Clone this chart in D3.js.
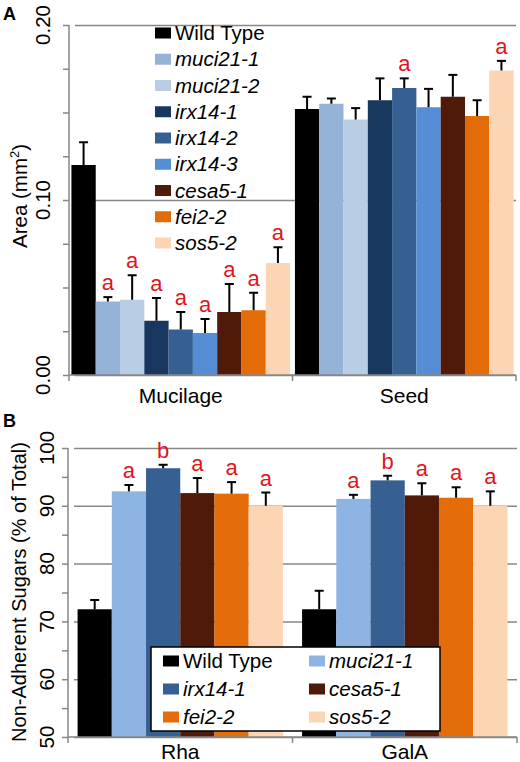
<!DOCTYPE html>
<html>
<head>
<meta charset="utf-8">
<script src="https://cdn.jsdelivr.net/npm/d3@7"></script>
<style>
  body { margin: 0; background: #fff; }
  text { font-family: Arial, "Liberation Sans", sans-serif; }
</style>
</head>
<body>
<svg id="fig" width="520" height="762"></svg>
<script>
// Panel A - mucilage / seed area
const tissues = ["Mucilage", "Seed"];
const genotypesA = ["Wild Type", "muci21-1", "muci21-2", "irx14-1", "irx14-2", "irx14-3", "cesa5-1", "fei2-2", "sos5-2"];
const mucilageArea = [0.120, 0.042, 0.043, 0.031, 0.026, 0.024, 0.036, 0.037, 0.064];
const mucilageSE = [0.013, 0.0025, 0.014, 0.013, 0.010, 0.008, 0.016, 0.010, 0.009];
const seedArea = [0.152, 0.155, 0.146, 0.157, 0.164, 0.153, 0.159, 0.148, 0.174];
const seedSE = [0.007, 0.003, 0.0065, 0.0125, 0.0055, 0.0105, 0.0125, 0.009, 0.0055];
const mucilageSig = ["", "a", "a", "a", "a", "a", "a", "a", "a"];
const seedSig = ["", "", "", "", "a", "", "", "", "a"];
const yMajorA = [0, 0.10, 0.20];

// Panel B - non-adherent sugars
const sugars = ["Rha", "GalA"];
const genotypesB = ["Wild Type", "muci21-1", "irx14-1", "cesa5-1", "fei2-2", "sos5-2"];
const rhaPct = [72.1, 92.5, 96.5, 92.2, 92.1, 90.0];
const rhaSE = [1.6, 1.1, 0.6, 2.6, 2.0, 2.3];
const galaPct = [72.1, 91.2, 94.4, 91.8, 91.4, 90.0];
const galaSE = [3.2, 0.7, 0.8, 2.1, 1.8, 2.5];
const rhaSig = ["", "a", "b", "a", "a", "a"];
const galaSig = ["", "a", "b", "a", "a", "a"];
const yMajorB = [50, 60, 70, 80, 90, 100];

// colours
const colA = d3.scaleOrdinal().domain(genotypesA)
  .range(["#000000", "#95b3d7", "#b9cde5", "#17375e", "#366092", "#558ed5", "#4f1a08", "#e36c09", "#fcd5b4"]);
const colB = d3.scaleOrdinal().domain(genotypesB)
  .range(["#000000", "#8db4e2", "#376092", "#4f1a08", "#e46c0a", "#fcd5b5"]);

const grey = "#878787";
const svg = d3.select("#fig");

function drawPanel(o) {
  const g = svg.append("g");
  const x0 = d3.scaleBand().domain(o.cats).range(o.xr);
  const x1 = d3.scaleBand().domain(o.genos).range([0, x0.bandwidth()]).paddingOuter(o.pad);
  const y = d3.scaleLinear().domain(o.dom).range(o.yr);

  // minor ticks
  g.append("g").attr("transform", `translate(${o.xr[0]},0)`)
    .call(d3.axisLeft(y).tickValues(o.minor).tickSize(6).tickFormat(""))
    .call(a => a.select(".domain").remove())
    .call(a => a.selectAll("line").attr("stroke", grey).attr("stroke-width", 1.5));

  // gridlines
  g.append("g").attr("transform", `translate(${o.xr[0]},0)`)
    .call(d3.axisLeft(y).tickValues(o.major).tickSize(-(o.xr[1] - o.xr[0])).tickSizeOuter(0).tickFormat(""))
    .call(a => a.select(".domain").remove())
    .call(a => a.selectAll("line").attr("stroke", grey).attr("stroke-width", 1.5).attr("x1", 6));

  // vertical axis line
  g.append("line").attr("x1", o.xr[0]).attr("x2", o.xr[0])
    .attr("y1", y(o.dom[0])).attr("y2", y(o.dom[1]))
    .attr("stroke", grey).attr("stroke-width", 1.5);

  // tick labels (rotated)
  g.selectAll(".tl").data(o.major).join("text")
    .attr("transform", d => `translate(${o.tickX},${y(d)}) rotate(-90)`)
    .attr("text-anchor", "middle").attr("font-size", 20.5).attr("fill", "#000")
    .text(o.fmt);

  // bars
  o.cats.forEach((c, ci) => {
    const vals = o.values[ci], se = o.se[ci], sig = o.sig[ci];
    const gx = g.append("g").attr("transform", `translate(${x0(c)},0)`);
    gx.selectAll("rect").data(o.genos).join("rect")
      .attr("x", d => x1(d)).attr("width", x1.bandwidth())
      .attr("y", (d, i) => y(vals[i]))
      .attr("height", (d, i) => y(o.dom[0]) - y(vals[i]))
      .attr("fill", d => o.col(d));
    // error bars
    const eb = gx.selectAll(".eb").data(o.genos).join("g")
      .attr("transform", d => `translate(${x1(d) + x1.bandwidth() / 2},0)`);
    eb.append("line").attr("y1", (d, i) => y(vals[i])).attr("y2", (d, i) => y(vals[i] + se[i]))
      .attr("stroke", "#000").attr("stroke-width", 2);
    eb.append("line").attr("x1", -4.5).attr("x2", 4.5)
      .attr("y1", (d, i) => y(vals[i] + se[i])).attr("y2", (d, i) => y(vals[i] + se[i]))
      .attr("stroke", "#000").attr("stroke-width", 2);
    eb.append("text").attr("text-anchor", "middle").attr("font-size", 22).attr("fill", "#e0141c")
      .attr("y", (d, i) => y(vals[i] + se[i]) - 7)
      .text((d, i) => sig[i]);
  });

  // baseline + category ticks
  g.append("line").attr("x1", o.xr[0]).attr("x2", o.xr[1])
    .attr("y1", y(o.dom[0])).attr("y2", y(o.dom[0]))
    .attr("stroke", grey).attr("stroke-width", 1.5);
  const edges = o.cats.map(c => x0(c)).concat([o.xr[1]]);
  g.selectAll(".ct").data(edges).join("line")
    .attr("x1", d => d).attr("x2", d => d)
    .attr("y1", y(o.dom[0])).attr("y2", y(o.dom[0]) + 6)
    .attr("stroke", grey).attr("stroke-width", 1.5);
  g.selectAll(".cl").data(o.cats).join("text")
    .attr("x", d => x0(d) + x0.bandwidth() / 2).attr("y", o.catY)
    .attr("text-anchor", "middle").attr("font-size", 21).text(d => d);

  return { x0, x1, y };
}

// ---- Panel A ----
drawPanel({
  cats: tissues, genos: genotypesA, col: colA,
  xr: [69, 516], pad: 0.1, dom: [0, 0.2], yr: [375, 25],
  major: yMajorA, minor: d3.range(0, 0.2001, 0.025), fmt: d3.format(".2f"),
  tickX: 50, catY: 403,
  values: [mucilageArea, seedArea], se: [mucilageSE, seedSE], sig: [mucilageSig, seedSig]
});

const labA = svg.append("text").attr("transform", "translate(27,196) rotate(-90)")
  .attr("text-anchor", "middle").attr("font-size", 20.5);
labA.append("tspan").text("Area (mm");
labA.append("tspan").attr("font-size", 13).attr("dy", -8).text("2");
labA.append("tspan").attr("dy", 8).text(")");

svg.append("text").attr("x", 3).attr("y", 20).attr("font-size", 18).attr("font-weight", "bold").text("A");

// legend A
const ly = d3.scalePoint().domain(genotypesA).range([33, 243]);
const legA = svg.append("g").selectAll("g").data(genotypesA).join("g")
  .attr("transform", d => `translate(155,${ly(d)})`);
legA.append("rect").attr("x", 0).attr("y", -5.5).attr("width", 16).attr("height", 11).attr("fill", d => colA(d));
legA.append("text").attr("x", 20).attr("dy", "0.35em").attr("font-size", 20.5)
  .attr("font-style", d => d === "Wild Type" ? "normal" : "italic").text(d => d);

// ---- Panel B ----
drawPanel({
  cats: sugars, genos: genotypesB, col: colB,
  xr: [68, 517], pad: 0.28, dom: [50, 100], yr: [737, 448],
  major: yMajorB, minor: d3.range(50, 100.01, 5), fmt: d3.format("d"),
  tickX: 54, catY: 759,
  values: [rhaPct, galaPct], se: [rhaSE, galaSE], sig: [rhaSig, galaSig]
});

svg.append("text").attr("transform", "translate(26,592) rotate(-90)")
  .attr("text-anchor", "middle").attr("font-size", 20).text("Non-Adherent Sugars (% of Total)");

svg.append("text").attr("x", 3).attr("y", 427).attr("font-size", 18).attr("font-weight", "bold").text("B");

// legend B (two columns)
svg.append("rect").attr("x", 151).attr("y", 647).attr("width", 289).attr("height", 84)
  .attr("fill", "#fff").attr("stroke", "#000").attr("stroke-width", 1.5);
const lcol = d3.scalePoint().domain([0, 1]).range([163, 309]);
const lrow = d3.scalePoint().domain([0, 1, 2]).range([661, 717]);
const legB = svg.append("g").selectAll("g").data(genotypesB).join("g")
  .attr("transform", (d, i) => `translate(${lcol(i % 2)},${lrow(Math.floor(i / 2))})`);
legB.append("rect").attr("x", 0).attr("y", -5.5).attr("width", 16).attr("height", 11).attr("fill", d => colB(d));
legB.append("text").attr("x", 20).attr("dy", "0.35em").attr("font-size", 20.5)
  .attr("font-style", d => d === "Wild Type" ? "normal" : "italic").text(d => d);
</script>
</body>
</html>
